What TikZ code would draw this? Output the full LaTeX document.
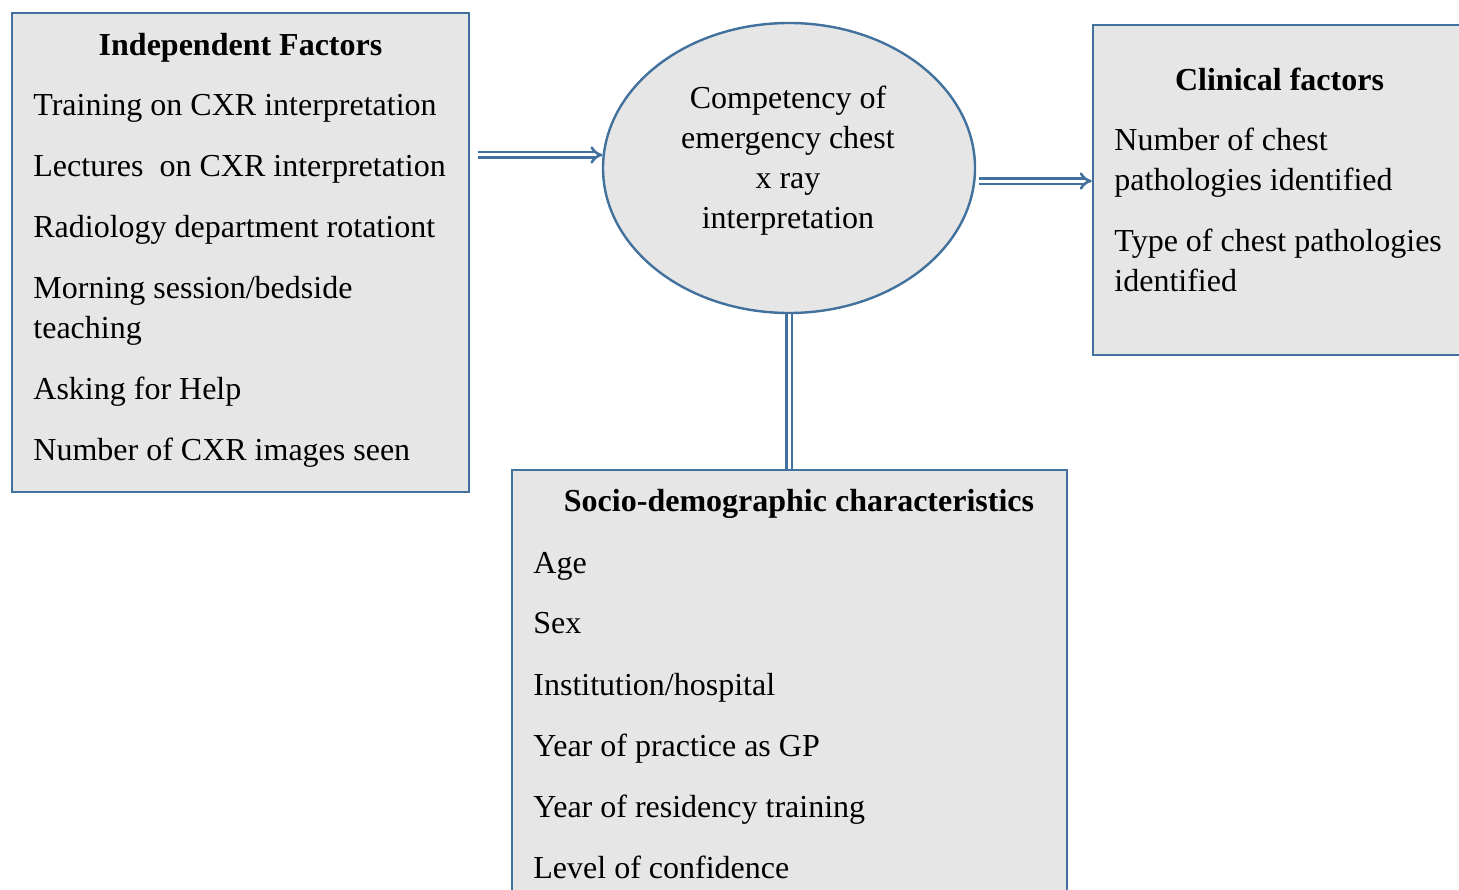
\documentclass[tikz,border=0pt]{standalone}
\usepackage{fontspec}
\setmainfont{Liberation Serif}
\usetikzlibrary{positioning, arrows.meta, shapes.geometric}
\definecolor{frameblue}{RGB}{65,113,156}
\definecolor{granite}{RGB}{230,230,230}

\begin{document}
\begin{tikzpicture}[x=0.5pt, y=-0.5pt,
      panel/.style={draw=frameblue, line width=1.2pt, fill=granite, inner sep=0pt},
      head/.style={font=\fontsize{16}{20}\selectfont\bfseries, anchor=base, inner sep=0pt},
      item/.style={font=\fontsize{16}{20}\selectfont, anchor=base west, align=left, inner sep=0pt},
      link/.style={draw=frameblue, line width=1.3pt, double=white, double distance=1.5pt}]

    \useasboundingbox (0,0) rectangle (1459,889);
    \clip (0,0) rectangle (1459,889);

    \node[panel, minimum width=228.5pt, minimum height=239.5pt] (indep) at (240.5,252.5) {};
    \node[panel, ellipse, minimum width=186pt, minimum height=145pt] (comp) at (789,168) {};
    \node[panel, minimum width=188.5pt, minimum height=165pt] (clin) at (1281.5,190) {};
    \node[panel, minimum width=277.5pt, minimum height=215pt] (social) at (789.5,685) {};

    \node[head] (indhead) at (240.5,55) {Independent Factors};
    \node[item] (ind1) at (33,115) {Training on CXR interpretation};
    \node[item] (ind2) at (33,176) {Lectures \ on CXR interpretation};
    \node[item] (ind3) at (33,237) {Radiology department rotationt};
    \node[item] (ind4) at (33,338) {Morning session/bedside\\teaching};
    \node[item] (ind5) at (33,399) {Asking for Help};
    \node[item] (ind6) at (33,460) {Number of CXR images seen};

    \node[font=\fontsize{16}{20}\selectfont, align=center, inner sep=0pt] (comptext) at (788,161)
      {Competency of\\emergency chest\\x ray\\interpretation};

    \node[head] (clinhead) at (1279.5,90) {Clinical factors};
    \node[item] (clin1) at (1114,190) {Number of chest\\pathologies identified};
    \node[item] (clin2) at (1114,291) {Type of chest pathologies\\identified};

    \node[head] (sochead) at (799,511) {Socio-demographic characteristics};
    \node[item] (soc1) at (533,573) {Age};
    \node[item] (soc2) at (533,633) {Sex};
    \node[item] (soc3) at (533,695) {Institution/hospital};
    \node[item] (soc4) at (533,756) {Year of practice as GP};
    \node[item] (soc5) at (533,817) {Year of residency training};
    \node[item] (soc6) at (533,878) {Level of confidence};

    \draw[link, -{Implies}] ([xshift=4pt]indep.east |- comp.176) -- (comp.176);
    \draw[link, -{Implies}] ([xshift=2pt]comp.-4) -- (clin.west |- comp.-4);
    \draw[link] (comp.south) -- (comp.south |- social.north);
  \end{tikzpicture}
\end{document}
